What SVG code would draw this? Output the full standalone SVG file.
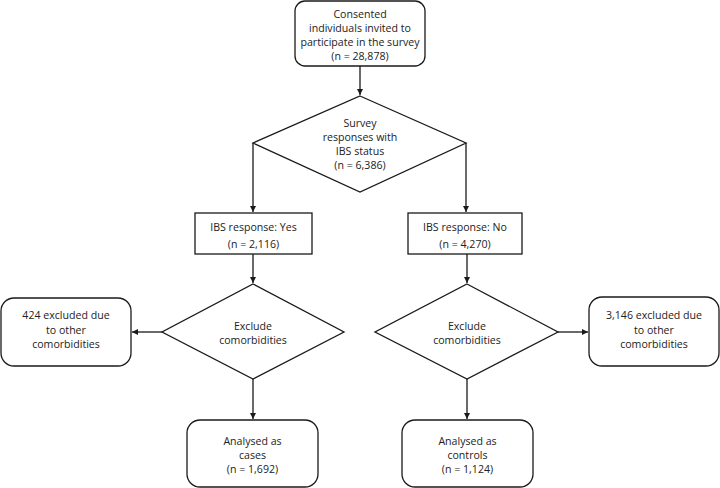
<svg xmlns="http://www.w3.org/2000/svg" width="720" height="488" viewBox="0 0 720 488">
<defs>
<marker id="arr" viewBox="0 0 10 10" refX="10" refY="5" markerWidth="6" markerHeight="6" markerUnits="userSpaceOnUse" orient="auto">
<path d="M0,0 L10,5 L0,10 z" fill="#1a1a1a"/>
</marker>
<style>
.s{fill:#fff;stroke:#1a1a1a;stroke-width:1.3}
.c{fill:none;stroke:#1a1a1a;stroke-width:1.3;marker-end:url(#arr)}
text{font-family:"Open Sans","Liberation Sans",sans-serif;font-size:10.6px;fill:#222;text-anchor:middle}
</style>
</defs>
<rect width="720" height="488" fill="#fff"/>
<g id="connectors">
<path class="c" d="M360,66 V95"/>
<path class="c" d="M253,143 V212"/>
<path class="c" d="M466,143 V212"/>
<path class="c" d="M253,254 V283"/>
<path class="c" d="M467,254 V283"/>
<path class="c" d="M162,332 H132"/>
<path class="c" d="M558,332 H588"/>
<path class="c" d="M253,379 V419"/>
<path class="c" d="M467,379 V419"/>
</g>
<g id="n1"><rect class="s" x="295" y="1" width="130" height="65" rx="10"/>
<text x="360" y="18">Consented</text><text x="360" y="32">individuals invited to</text><text x="360" y="46">participate in the survey</text><text x="360" y="60">(n = 28,878)</text></g>
<g id="n2"><polygon class="s" points="360,96 466,143 360,192 253,143"/>
<text x="360" y="127">Survey</text><text x="360" y="141">responses with</text><text x="360" y="155">IBS status</text><text x="360" y="169">(n = 6,386)</text></g>
<g id="n3"><rect class="s" x="195" y="213" width="117" height="41"/>
<text x="253.5" y="231">IBS response: Yes</text><text x="253.5" y="248">(n = 2,116)</text></g>
<g id="n4"><rect class="s" x="408" y="213" width="114" height="41"/>
<text x="465" y="231">IBS response: No</text><text x="465" y="248">(n = 4,270)</text></g>
<g id="n5"><polygon class="s" points="253,284 344,332 253,379 162,332"/>
<text x="253" y="330">Exclude</text><text x="253" y="344">comorbidities</text></g>
<g id="n6"><polygon class="s" points="467,284 558,332 467,379 375,332"/>
<text x="467" y="330">Exclude</text><text x="467" y="344">comorbidities</text></g>
<g id="n7"><rect class="s" x="1" y="298" width="130" height="68" rx="13"/>
<text x="66" y="319">424 excluded due</text><text x="66" y="334">to other</text><text x="66" y="348">comorbidities</text></g>
<g id="n8"><rect class="s" x="589" y="297" width="130" height="69" rx="13"/>
<text x="654" y="319">3,146 excluded due</text><text x="654" y="334">to other</text><text x="654" y="348">comorbidities</text></g>
<g id="n9"><rect class="s" x="187" y="420" width="131" height="67" rx="13"/>
<text x="252.5" y="445">Analysed as</text><text x="252.5" y="459">cases</text><text x="252.5" y="473">(n = 1,692)</text></g>
<g id="n10"><rect class="s" x="402" y="420" width="131" height="67" rx="13"/>
<text x="467.5" y="445">Analysed as</text><text x="467.5" y="459">controls</text><text x="467.5" y="473">(n = 1,124)</text></g>
</svg>
